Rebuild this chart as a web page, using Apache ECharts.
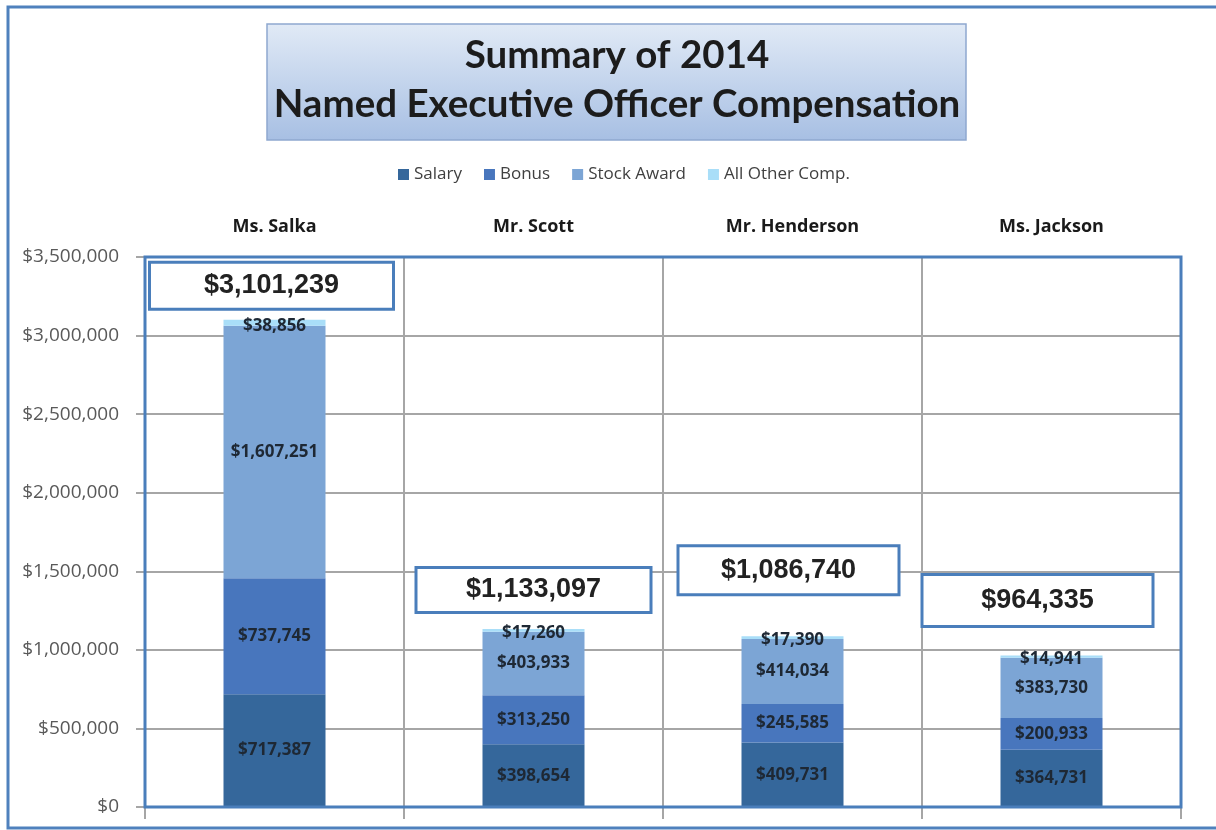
<!DOCTYPE html>
<html>
<head>
<meta charset="utf-8">
<title>Summary of 2014 Named Executive Officer Compensation</title>
<script src="https://cdn.jsdelivr.net/npm/echarts@6/dist/echarts.min.js"></script>
<style>
  html, body { margin: 0; padding: 0; background: #fff; }
  #chart { width: 1216px; height: 830px; }
</style>
</head>
<body>
<div id="chart"></div>
<script>
var officers = ['Ms. Salka', 'Mr. Scott', 'Mr. Henderson', 'Ms. Jackson']
var salary = [717387, 398654, 409731, 364731]
var bonus = [737745, 313250, 245585, 200933]
var stockAward = [1607251, 403933, 414034, 383730]
var otherComp = [38856, 17260, 17390, 14941]
var yTicks = [0, 500000, 1000000, 1500000, 2000000, 2500000, 3000000, 3500000]

// total boxes were placed by hand in the original, so keep their nudges here
var boxLayout = [
  { dx: -3, dy: -34, w: 244, h: 47 },
  { dx: 0, dy: -39, w: 235, h: 45 },
  { dx: -4, dy: -66, w: 221, h: 49 },
  { dx: -14, dy: -55, w: 231, h: 52 }
]

var totals = officers.map(function(_, i) {
  return salary[i] + bonus[i] + stockAward[i] + otherComp[i]
})

function money(v) {
  return '$' + Number(v).toLocaleString('en-US')
}

var gridBox = { left: 145, right: 35, top: 257, bottom: 23 }

var chart = echarts.init(document.getElementById('chart'))

function barSeries(name, data, color, labelOffset) {
  return {
    name: name,
    type: 'bar',
    stack: 'comp',
    barWidth: 102,
    data: data,
    itemStyle: { color: color },
    label: {
      show: true,
      position: 'inside',
      offset: labelOffset || [0, 0],
      formatter: function(p) { return money(p.value) },
      fontFamily: 'Open Sans',
      fontWeight: 'bold',
      fontSize: 17,
      color: '#1e2834',
      textBorderWidth: 0
    }
  }
}

chart.setOption({
  backgroundColor: '#fff',
  animation: false,
  graphic: [
    {
      type: 'rect',
      z: -10,
      shape: { x: 8, y: 7, width: 1230, height: 821 },
      style: { fill: 'none', stroke: '#4f81bd', lineWidth: 3 }
    },
    {
      type: 'rect',
      z: -5,
      shape: { x: 267, y: 24, width: 699, height: 116 },
      style: {
        fill: new echarts.graphic.LinearGradient(0, 0, 0, 1, [
          { offset: 0, color: '#e1eaf6' },
          { offset: 1, color: '#a7bfe3' }
        ]),
        stroke: '#8ea8cf',
        lineWidth: 1.5
      }
    },
    {
      // blue frame of the plot area, drawn over the grey grid lines
      type: 'rect',
      z: 100,
      silent: true,
      shape: {
        x: gridBox.left,
        y: gridBox.top,
        width: 1216 - gridBox.left - gridBox.right,
        height: 830 - gridBox.top - gridBox.bottom
      },
      style: { fill: 'none', stroke: '#4a7ebb', lineWidth: 3 }
    }
  ],
  title: {
    text: 'Summary of 2014\nNamed Executive Officer Compensation',
    left: 612,
    top: 26,
    textAlign: 'center',
    textStyle: {
      fontFamily: 'Lato',
      fontWeight: 'bold',
      fontSize: 38.5,
      lineHeight: 49,
      color: '#1c1c1c'
    }
  },
  legend: {
    top: 161,
    left: 393,
    icon: 'rect',
    itemWidth: 11,
    itemHeight: 11,
    itemGap: 22,
    data: ['Salary', 'Bonus', 'Stock Award', 'All Other Comp.'],
    textStyle: {
      fontFamily: 'Open Sans',
      fontSize: 17,
      color: '#404040'
    }
  },
  grid: {
    left: gridBox.left,
    right: gridBox.right,
    top: gridBox.top,
    bottom: gridBox.bottom
  },
  xAxis: [
    {
      type: 'category',
      position: 'bottom',
      data: officers,
      axisLine: { lineStyle: { color: '#a6a6a6', width: 2 } },
      axisTick: { show: true, length: 12, lineStyle: { color: '#a6a6a6', width: 2 } },
      axisLabel: { show: false },
      splitLine: { show: true, lineStyle: { color: '#a6a6a6', width: 2 } }
    },
    {
      type: 'category',
      position: 'top',
      data: officers,
      axisLine: { show: false },
      axisTick: { show: false },
      axisLabel: {
        margin: 21,
        fontFamily: 'Open Sans',
        fontWeight: 'bold',
        fontSize: 18,
        color: '#1a1a1a'
      }
    }
  ],
  yAxis: {
    type: 'value',
    min: yTicks[0],
    max: yTicks[yTicks.length - 1],
    interval: yTicks[1] - yTicks[0],
    axisLine: { show: false },
    axisTick: { show: true, length: 9, lineStyle: { color: '#a6a6a6', width: 2 } },
    axisLabel: {
      margin: 26,
      fontFamily: 'Open Sans',
      fontSize: 19,
      color: '#595959',
      formatter: money
    },
    splitLine: { lineStyle: { color: '#a6a6a6', width: 2 } }
  },
  series: [
    barSeries('Salary', salary, '#35679b'),
    barSeries('Bonus', bonus, '#4876bd'),
    barSeries('Stock Award', stockAward, '#7ca5d5'),
    barSeries('All Other Comp.', otherComp, '#a9def8', [0, 3]),
    {
      name: 'Total',
      type: 'scatter',
      symbolSize: 0,
      silent: true,
      z: 10,
      itemStyle: { opacity: 1 },
      data: totals.map(function(t, i) {
        var b = boxLayout[i]
        return {
          value: t,
          label: {
            offset: [b.dx, b.dy],
            width: b.w - 3,
            height: b.h - 3,
            lineHeight: b.h - 3
          }
        }
      }),
      label: {
        show: true,
        position: 'inside',
        formatter: function(p) { return money(p.value) },
        align: 'center',
        verticalAlign: 'middle',
        backgroundColor: '#fff',
        borderColor: '#4a7ebb',
        borderWidth: 3,
        padding: 0,
        opacity: 1,
        textBorderWidth: 0,
        fontFamily: 'Liberation Sans',
        fontWeight: 'bold',
        fontSize: 27,
        color: '#222'
      }
    }
  ]
})
</script>
</body>
</html>
